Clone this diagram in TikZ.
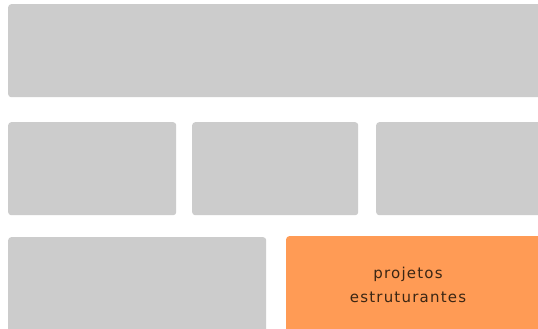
\documentclass[tikz,border=0pt]{standalone}
\usepackage{fontspec}
\newfontfamily\lblfont[LetterSpace=8]{DejaVu Sans}
\definecolor{tilegray}{HTML}{CCCCCC}
\definecolor{tileorange}{HTML}{FF9B55}
\definecolor{lbltext}{HTML}{3B2614}

\begin{document}
\begin{tikzpicture}
		[x=1pt,y=-1pt,
		tile/.style={fill=tilegray,draw=none,rounded corners=3pt,anchor=north west,inner sep=0pt},
		hot/.style={tile,fill=tileorange}]
		\useasboundingbox (0,0) rectangle (538,329);
		\fill[white] (0,0) rectangle (538,329);
		\clip (0,0) rectangle (538,329);

		\node[tile,minimum width=540pt,minimum height=93pt] (top) at (8,4) {};

		\node[tile,minimum width=168pt,minimum height=93pt] (mida) at (8,122) {};
		\node[tile,minimum width=166pt,minimum height=93pt] (midb) at (192,122) {};
		\node[tile,minimum width=172pt,minimum height=93pt] (midc) at (376,122) {};

		\node[tile,minimum width=258pt,minimum height=100pt] (bota) at (8,237) {};
		\node[hot,minimum width=262pt,minimum height=100pt] (proj) at (286,236) {};
		\node[align=center,text=lbltext,font=\lblfont\fontsize{15}{24}\selectfont] (projlbl) at (408,285) {projetos\\estruturantes};

	\end{tikzpicture}
\end{document}
